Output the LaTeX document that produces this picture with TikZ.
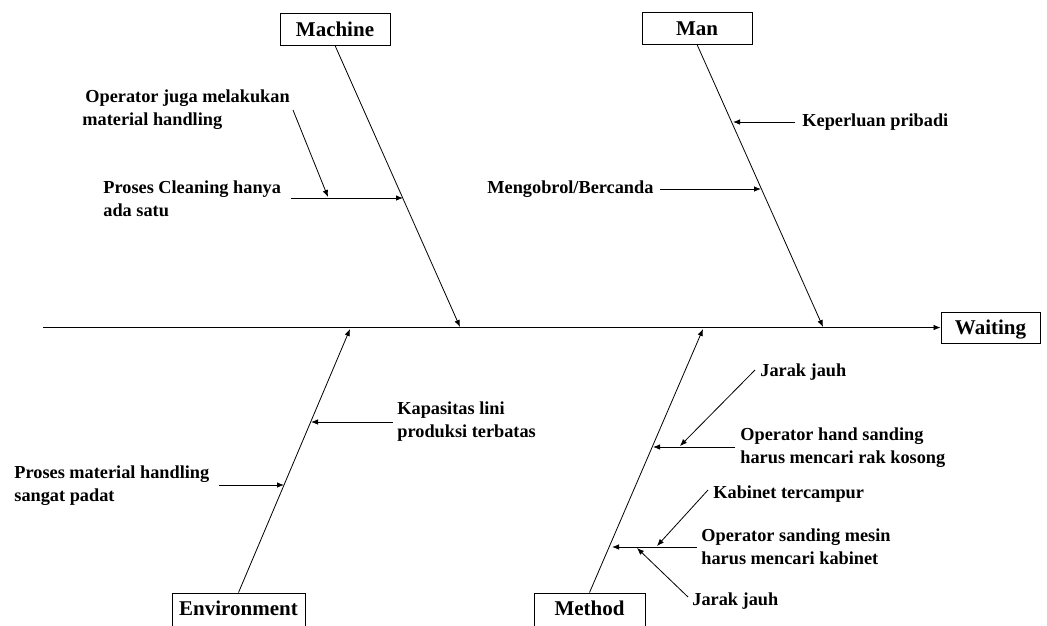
\documentclass[tikz,border=0pt]{standalone}
\usepackage{fontspec}
\setmainfont{Liberation Serif}
\usetikzlibrary{arrows.meta}
\begin{document}
\begin{tikzpicture}[x=1pt,y=-1pt,line width=0.8pt,
  catbox/.style={draw,line width=0.9pt,inner sep=0pt,minimum height=32pt,
    text height=14.5pt,text depth=0.5pt,
    font=\fontsize{21}{24}\selectfont\bfseries},
  cause/.style={inner sep=0pt,anchor=west,align=left,
    font=\fontsize{18.3}{23}\selectfont\bfseries},
  arr/.style={-{Latex[length=7pt,width=5.5pt]}}]
\useasboundingbox (0,0) rectangle (1047,625);

% category boxes and effect
\node[catbox,minimum width=110pt] (machine) at (335,29) {Machine};
\node[catbox,minimum width=110pt] (man) at (697,28) {Man};
\node[catbox,minimum width=99pt,minimum height=31pt] (waiting) at (990.5,327.5) {Waiting};
\node[catbox,minimum width=133pt,minimum height=38pt,text depth=8.5pt] (env) at (238.5,612) {Environment};
\node[catbox,minimum width=111pt,minimum height=38pt,text depth=8.5pt] (method) at (589.5,612) {Method};

% spine
\coordinate (tail) at (43,327.5);
\draw[arr] (tail) -- (waiting.west);

% main branches
\coordinate (jMachine) at (460,327);
\coordinate (jMan) at (823,327);
\coordinate (jEnv) at (350,329);
\coordinate (jMethod) at (703,329);
\draw[arr] (machine.south) -- (jMachine);
\draw[arr] (man.south) -- (jMan);
\draw[arr] (env.north) -- (jEnv);
\draw[arr] (method.north) -- (jMethod);

% causes: Machine
\node[cause] (opj) at (82,110) {\hspace*{3pt}Operator juga melakukan\\material handling};
\node[cause] (pcl) at (103,198.5) {Proses Cleaning hanya\\ada satu};
\coordinate (pclS) at (291,198);
\coordinate (pclE) at (403,198);
\coordinate (opjS) at (293,110);
\coordinate (opjE) at (328,197);
\draw[arr] (pclS) -- (pclE);
\draw[arr] (opjS) -- (opjE);

% causes: Man
\node[cause] (kep) at (802,122) {Keperluan pribadi};
\node[cause] (mgb) at (487,189) {Mengobrol/Bercanda};
\coordinate (kepS) at (795,122);
\coordinate (kepE) at (733,122);
\coordinate (mgbS) at (660,189);
\coordinate (mgbE) at (761,189);
\draw[arr] (kepS) -- (kepE);
\draw[arr] (mgbS) -- (mgbE);

% causes: Environment
\node[cause] (kap) at (397,421.5) {Kapasitas lini\\produksi terbatas};
\node[cause] (pmh) at (14,485.5) {Proses material handling\\sangat padat};
\coordinate (kapS) at (393,422);
\coordinate (kapE) at (311,422);
\coordinate (pmhS) at (219,485);
\coordinate (pmhE) at (284,485);
\draw[arr] (kapS) -- (kapE);
\draw[arr] (pmhS) -- (pmhE);

% causes: Method
\node[cause] (jj1) at (760,372) {Jarak jauh};
\node[cause] (ohs) at (740,448) {Operator hand sanding\\harus mencari rak kosong};
\node[cause] (kab) at (713,494) {Kabinet tercampur};
\node[cause] (osm) at (701,546.5) {Operator sanding mesin\\harus mencari kabinet};
\node[cause] (jj2) at (692,601) {Jarak jauh};
\coordinate (ohsS) at (735,447);
\coordinate (ohsE) at (653,447);
\coordinate (jj1S) at (755,370);
\coordinate (jj1E) at (680,446);
\coordinate (osmS) at (697,547);
\coordinate (osmE) at (612,547);
\coordinate (kabS) at (708,490);
\coordinate (kabE) at (657,546);
\coordinate (jj2S) at (688,597);
\coordinate (jj2E) at (637,548);
\draw[arr] (ohsS) -- (ohsE);
\draw[arr] (jj1S) -- (jj1E);
\draw[arr] (osmS) -- (osmE);
\draw[arr] (kabS) -- (kabE);
\draw[arr] (jj2S) -- (jj2E);
\end{tikzpicture}
\end{document}
